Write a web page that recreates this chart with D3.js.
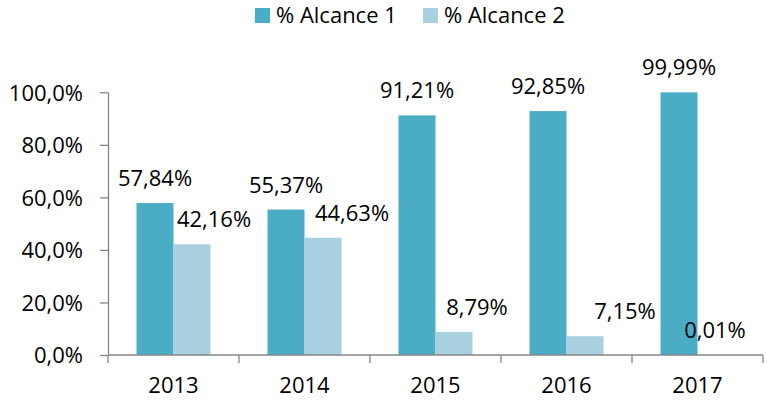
<!DOCTYPE html>
<html>
<head>
<meta charset="utf-8">
<script src="https://cdn.jsdelivr.net/npm/d3@7"></script>
<style>
  html, body { margin: 0; padding: 0; background: #fff; }
  svg { display: block; font-family: "Open Sans", "Liberation Sans", sans-serif; }
</style>
</head>
<body>
<svg id="chart" width="767" height="401"></svg>
<script>
const categories = ["2013", "2014", "2015", "2016", "2017"];
const seriesNames = ["% Alcance 1", "% Alcance 2"];
const alcance1 = [0.5784, 0.5537, 0.9121, 0.9285, 0.9999];
const alcance2 = [0.4216, 0.4463, 0.0879, 0.0715, 0.0001];
const labels1 = ["57,84%", "55,37%", "91,21%", "92,85%", "99,99%"];
const labels2 = ["42,16%", "44,63%", "8,79%", "7,15%", "0,01%"];
const yTicks = [0, 0.2, 0.4, 0.6, 0.8, 1.0];
const yTickLabels = ["0,0%", "20,0%", "40,0%", "60,0%", "80,0%", "100,0%"];

// layout-only: horizontal nudge of the second series' labels (as placed in the original)
const label2Nudge = [22, 29, 23, 40, -1];

const colors = ["#4BACC6", "#A9D0DE"];
const series = [alcance1, alcance2];
const seriesLabels = [labels1, labels2];

const svg = d3.select("#chart");

const x0 = d3.scaleBand().domain(categories).range([108, 763]).padding(0);
const bw = x0.bandwidth();
const groupPad = (bw - 74) / 2;
const x1 = d3.scaleBand().domain(d3.range(series.length)).range([groupPad, bw - groupPad]).padding(0);
const y = d3.scaleLinear().domain([0, 1]).range([355, 92.3]);

// bars
series.forEach((vals, si) => {
  svg.append("g").selectAll("rect").data(vals).join("rect")
    .attr("x", (d, i) => x0(categories[i]) + x1(si))
    .attr("y", d => y(d))
    .attr("width", x1.bandwidth())
    .attr("height", d => y(0) - y(d))
    .attr("fill", colors[si]);
});

// y axis
const yAxis = d3.axisLeft(y).tickValues(yTicks).tickSize(8).tickSizeOuter(0)
  .tickFormat((d, i) => yTickLabels[i]).tickPadding(17);
const gy = svg.append("g").attr("transform", "translate(108,0)").call(yAxis);
gy.select(".domain").attr("stroke", "#868686").attr("stroke-width", 1.3);
gy.selectAll(".tick line").attr("stroke", "#868686").attr("stroke-width", 1.3);
gy.selectAll(".tick text").attr("font-size", 22).attr("fill", "#000")
  .attr("font-family", "Open Sans").attr("dy", "0.36em");

// x axis
const gx = svg.append("g").attr("transform", "translate(0,355)")
  .call(d3.axisBottom(x0).tickSize(0).tickPadding(22));
gx.select(".domain").attr("stroke", "#868686").attr("stroke-width", 1.3)
  .attr("d", "M108,0H763");
gx.selectAll(".tick text").attr("font-size", 22).attr("fill", "#000").attr("font-family", "Open Sans");
// category boundary ticks
const boundaries = categories.map(c => x0(c)).concat([x0(categories[categories.length - 1]) + bw]);
gx.append("g").selectAll("line").data(boundaries).join("line")
  .attr("x1", d => d).attr("x2", d => d).attr("y1", 0).attr("y2", 8)
  .attr("stroke", "#868686").attr("stroke-width", 1.3);

// value labels
series.forEach((vals, si) => {
  svg.append("g").selectAll("text").data(vals).join("text")
    .attr("x", (d, i) => x0(categories[i]) + x1(si) + x1.bandwidth() / 2 + (si === 1 ? label2Nudge[i] : 0))
    .attr("y", d => y(d) - 17)
    .attr("text-anchor", "middle")
    .attr("font-size", 22)
    .attr("fill", "#000")
    .text((d, i) => seriesLabels[si][i]);
});

// legend
const legendX = [255, 423];
const lg = svg.append("g");
seriesNames.forEach((name, si) => {
  lg.append("rect").attr("x", legendX[si]).attr("y", 8).attr("width", 15).attr("height", 15).attr("fill", colors[si]);
  lg.append("text").attr("x", legendX[si] + 21).attr("y", 23).attr("font-size", 22).attr("fill", "#000").text(name);
});
</script>
</body>
</html>
